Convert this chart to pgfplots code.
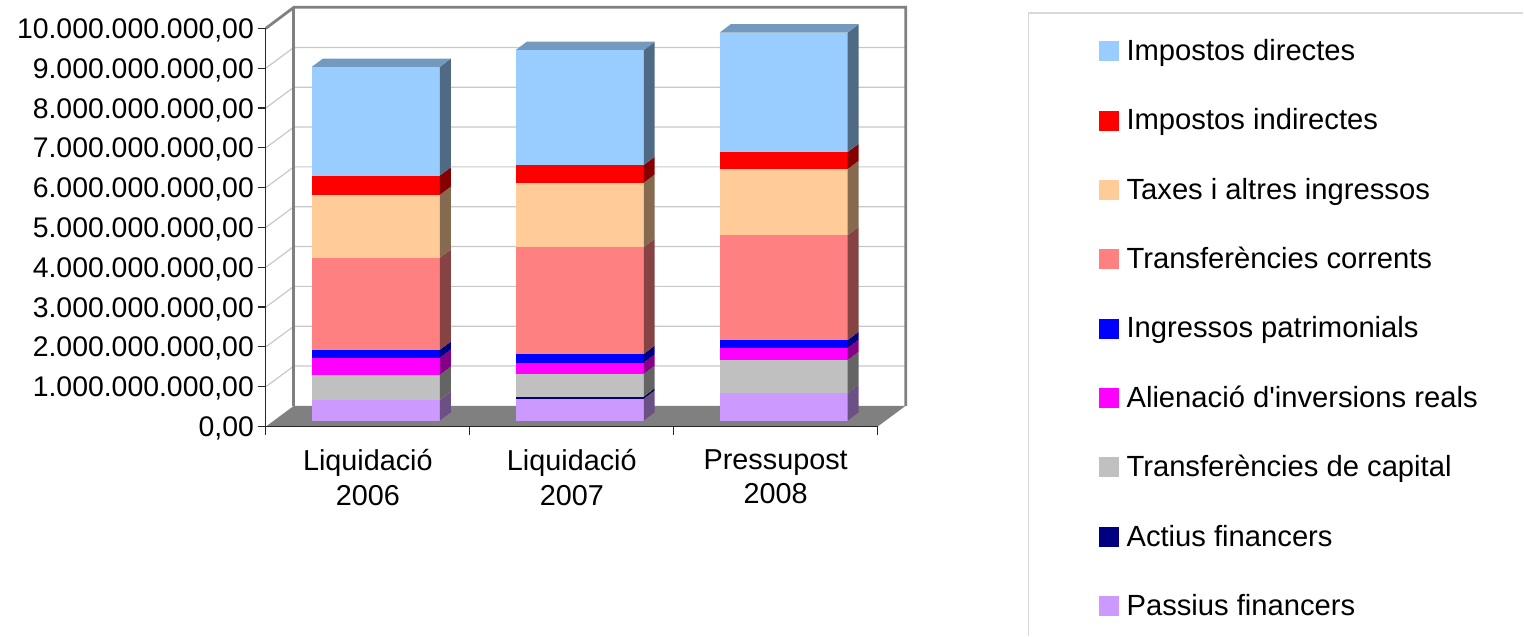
\documentclass[border=0pt]{standalone}
\usepackage{fontspec}
\setmainfont{Liberation Sans}[Ligatures=TeXOff]
\usepackage{pgfplots}
\pgfplotsset{compat=1.18}

\definecolor{impdir}{HTML}{99CCFF}
\definecolor{impind}{HTML}{FF0000}
\definecolor{taxes}{HTML}{FFCC99}
\definecolor{trcorr}{HTML}{FF8080}
\definecolor{ingpat}{HTML}{0000FF}
\definecolor{aliena}{HTML}{FF00FF}
\definecolor{trcap}{HTML}{C0C0C0}
\definecolor{actius}{HTML}{000080}
\definecolor{passius}{HTML}{CC99FF}

% 1px = 0.5pt; x in categories, y in thousand millions
\def\barw{0.6275}
\def\depx{0.0539}
\def\depy{0.208}
\def\base{0.15}

\newcommand{\startbar}[1]{%
  \def\xl{#1}%
  \pgfmathsetmacro\xr{#1+\barw}%
  \pgfmathsetmacro\xs{\xr+\depx}%
  \pgfmathsetmacro\xt{\xl+\depx}%
  \let\lev\base}
\newcommand{\seg}[2]{%
  \pgfmathsetmacro\hi{\lev+#2}%
  \pgfmathsetmacro\levs{\lev+\depy}%
  \pgfmathsetmacro\his{\hi+\depy}%
  \edef\temp{%
    \noexpand\addplot[draw=none,fill=#1,forget plot] coordinates {(\xl,\lev)(\xr,\lev)(\xr,\hi)(\xl,\hi)} --cycle;
    \noexpand\addplot[draw=none,fill=#1!52!black,forget plot] coordinates {(\xr,\lev)(\xs,\levs)(\xs,\his)(\xr,\hi)} --cycle;}%
  \temp
  \let\lev\hi}
\newcommand{\topface}{%
  \pgfmathsetmacro\his{\lev+\depy}%
  \edef\temp{%
    \noexpand\addplot[draw=none,fill=impdir!75!black,forget plot] coordinates {(\xl,\lev)(\xr,\lev)(\xs,\his)(\xt,\his)} --cycle;}%
  \temp}
\newcommand{\wallline}[1]{%
  \pgfmathsetmacro\up{#1+0.52}%
  \edef\temp{%
    \noexpand\addplot[gridc,line width=0.6pt,forget plot] coordinates {(0,#1)(0.1373,\up)(3.1373,\up)};}%
  \temp}
\definecolor{gridc}{HTML}{C8C8C8}
\definecolor{wallc}{HTML}{808080}

\begin{document}
\begin{tikzpicture}
\begin{axis}[
    scale only axis,
    width=306pt, height=199.2pt,
    xmin=0, xmax=3, ymin=0, ymax=10,
    axis x line=bottom, axis y line=left,
    axis line style={-,line width=0.6pt,color=black!85},
    axis on top,
    clip=false,
    tick align=outside,
    major tick length=4pt,
    tick style={line width=0.6pt,color=black!85},
    xtick={0,1,2,3},
    xticklabels={,,,},
    extra x ticks={0.5,1.5,2.5},
    extra x tick labels={{Liquidació\\2006},{Liquidació\\2007},{Pressupost\\2008}},
    extra x tick style={major tick length=0pt},
    x tick label style={align=center,font=\fontsize{14.4}{17.25}\selectfont,yshift=-8pt},
    xtick pos=bottom,
    ytick={0,1,2,3,4,5,6,7,8,9,10},
    yticklabels={{0,00},{1.000.000.000,00},{2.000.000.000,00},{3.000.000.000,00},{4.000.000.000,00},{5.000.000.000,00},{6.000.000.000,00},{7.000.000.000,00},{8.000.000.000,00},{9.000.000.000,00},{10.000.000.000,00}},
    ytick pos=left,
    y tick label style={font=\fontsize{14.2}{16.75}\selectfont,xshift=1.5pt,yshift=-1pt},
    legend image code/.code={\fill[#1] (0pt,-3.75pt) rectangle (9.5pt,5.75pt);},
    legend cell align=left,
    legend style={
      at={(1.351,0.983)}, anchor=north west,
      draw=none, fill=none,
      font=\fontsize{14.6}{16.75}\selectfont,
      nodes={inner sep=0pt,text height=10.5pt,text depth=3.2pt},
      row sep=21pt,
      /tikz/every odd column/.append style={column sep=4pt},
    },
]
% floor and walls
\addplot[draw=none,fill=wallc,forget plot] coordinates {(0,0)(3,0)(3.1373,0.52)(0.1373,0.52)} --cycle;
\wallline{1}\wallline{2}\wallline{3}\wallline{4}\wallline{5}\wallline{6}\wallline{7}\wallline{8}\wallline{9}
\addplot[wallc,line width=1.4pt,forget plot] coordinates {(0,10)(0.1373,10.527)(3.1373,10.527)(3.1373,0.52)};
\addplot[wallc,line width=1.4pt,forget plot] coordinates {(0.1373,10.527)(0.1373,0.52)};

% Liquidació 2006
\startbar{0.2255}
\seg{passius}{0.52}
\seg{trcap}{0.63}
\seg{aliena}{0.427}
\seg{ingpat}{0.20}
\seg{trcorr}{2.31}
\seg{taxes}{1.58}
\seg{impind}{0.485}
\seg{impdir}{2.73}
\topface

% Liquidació 2007
\startbar{1.2255}
\seg{passius}{0.552}
\seg{actius}{0.05}
\seg{trcap}{0.57}
\seg{aliena}{0.284}
\seg{ingpat}{0.218}
\seg{trcorr}{2.686}
\seg{taxes}{1.614}
\seg{impind}{0.444}
\seg{impdir}{2.887}
\topface

% Pressupost 2008
\startbar{2.2255}
\seg{passius}{0.695}
\seg{trcap}{0.828}
\seg{aliena}{0.301}
\seg{ingpat}{0.20}
\seg{trcorr}{2.636}
\seg{taxes}{1.657}
\seg{impind}{0.427}
\seg{impdir}{3.00}
\topface

\addlegendimage{impdir}\addlegendentry{Impostos directes}
\addlegendimage{impind}\addlegendentry{Impostos indirectes}
\addlegendimage{taxes}\addlegendentry{Taxes i altres ingressos}
\addlegendimage{trcorr}\addlegendentry{Transferències corrents}
\addlegendimage{ingpat}\addlegendentry{Ingressos patrimonials}
\addlegendimage{aliena}\addlegendentry{Alienació d'inversions reals}
\addlegendimage{trcap}\addlegendentry{Transferències de capital}
\addlegendimage{actius}\addlegendentry{Actius financers}
\addlegendimage{passius}\addlegendentry{Passius financers}
\end{axis}
% legend frame, cut by the page edge in the original
\draw[color=black!15,line width=0.6pt] (381.5pt,-104.65pt) -- (381.5pt,206.85pt) -- (629pt,206.85pt);
\path[use as bounding box] (-133pt,-104.65pt) rectangle (629pt,213.35pt);
\end{tikzpicture}
\end{document}
